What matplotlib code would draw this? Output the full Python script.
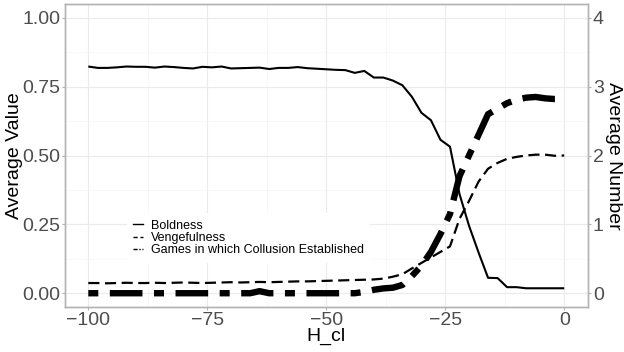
import numpy as np
import matplotlib
matplotlib.use("Agg")
from matplotlib import pyplot as plt
from matplotlib.lines import Line2D
from matplotlib.ticker import MultipleLocator

plt.rcParams['font.family'] = ['Liberation Sans', 'DejaVu Sans']
plt.rcParams['lines.scale_dashes'] = False
plt.rcParams['axes.unicode_minus'] = True

# H_cl values, step 2
h_cl = list(range(-100, 1, 2))

# left axis (0-1)
boldness = [0.823, 0.818, 0.818, 0.820, 0.823, 0.822, 0.822, 0.819, 0.823, 0.821,
            0.818, 0.816, 0.822, 0.820, 0.823, 0.816, 0.817, 0.818, 0.819, 0.814,
            0.818, 0.818, 0.821, 0.817, 0.815, 0.813, 0.811, 0.810, 0.800, 0.807,
            0.783, 0.783, 0.772, 0.755, 0.713, 0.655, 0.628, 0.557, 0.532, 0.360,
            0.245, 0.148, 0.056, 0.055, 0.022, 0.022, 0.018, 0.018, 0.018, 0.018,
            0.018]
vengefulness = [0.037, 0.037, 0.036, 0.037, 0.038, 0.037, 0.037, 0.038, 0.037, 0.038,
                0.039, 0.038, 0.037, 0.038, 0.039, 0.040, 0.039, 0.040, 0.041, 0.040,
                0.041, 0.042, 0.043, 0.043, 0.044, 0.045, 0.046, 0.047, 0.048, 0.049,
                0.050, 0.053, 0.060, 0.069, 0.090, 0.110, 0.130, 0.150, 0.170, 0.270,
                0.335, 0.405, 0.452, 0.473, 0.488, 0.495, 0.500, 0.503, 0.503, 0.499,
                0.500]

# right axis (0-4)
collusion = [0.0, 0.0, 0.0, 0.0, 0.0, 0.0, 0.0, 0.0, 0.0, 0.0,
             0.0, 0.0, 0.0, 0.0, 0.0, 0.0, 0.0, 0.0, 0.03, 0.0,
             0.0, 0.0, 0.0, 0.0, 0.0, 0.0, 0.0, 0.0, 0.0, 0.02,
             0.05, 0.07, 0.08, 0.12, 0.25, 0.40, 0.60, 0.86, 1.15, 1.70,
             2.00, 2.30, 2.60, 2.68, 2.76, 2.81, 2.84, 2.85, 2.83, 2.82,
             2.82]

legend_labels = ["Boldness", "Vengefulness", "Games in which Collusion Established"]

fig = plt.figure(figsize=(6.24, 3.52), dpi=100)
ax = fig.add_axes([64.5 / 624, 45 / 352, 523.5 / 624, 303 / 352])
ax2 = ax.twinx()

border = '#B3B3B3'
tick_col = '#4D4D4D'

ax.plot(h_cl, boldness, color='black', lw=1.5, solid_capstyle='butt')
ax.plot(h_cl, vengefulness, color='black', lw=1.6, dashes=(8, 4), dash_capstyle='butt')
ax2.plot(h_cl, collusion, color='black', lw=4.6, dashes=(7.2, 8.3, 23.5, 8.3),
         dash_capstyle='butt')

ax.set_xlim(-105, 5)
ax.set_ylim(-0.05, 1.05)
ax2.set_ylim(-0.2, 4.2)

ax.xaxis.set_minor_locator(MultipleLocator(12.5))
ax.yaxis.set_minor_locator(MultipleLocator(0.125))
ax.set_yticks([0, 0.25, 0.5, 0.75, 1.0])
ax.set_yticklabels(["0.00", "0.25", "0.50", "0.75", "1.00"])
ax.set_xticks([-100, -75, -50, -25, 0])
ax.set_xticklabels(["\u2212100", "\u221275", "\u221250", "\u221225", "0"])
ax2.set_yticks([0, 1, 2, 3, 4])

ax.grid(which='major', color='#EBEBEB', lw=0.8)
ax.grid(which='minor', color='#F5F5F5', lw=0.5)
ax.set_axisbelow(True)

for a in (ax, ax2):
    for s in a.spines.values():
        s.set_color(border)
        s.set_linewidth(1.0)
    a.tick_params(which='major', length=2.5, width=0.8, color=border,
                  labelsize=14, labelcolor=tick_col, pad=1)
    a.tick_params(which='minor', length=0)
ax.tick_params(axis='y', pad=0.3)

ax.set_xlabel("H_cl", fontsize=14, labelpad=-1)
ax.set_ylabel("Average Value", fontsize=14, labelpad=-0.5)
ax2.set_ylabel("Average Number", fontsize=14, rotation=270, labelpad=13)

handles = [Line2D([], [], color='black', lw=1.0),
           Line2D([], [], color='black', lw=1.0, dashes=(3, 2)),
           Line2D([], [], color='black', lw=1.0, dashes=(3, 1.2, 1, 1.2))]
leg = ax2.legend(handles, legend_labels, loc='center',
                 bbox_to_anchor=(248.5 / 624, 1 - 238 / 352), bbox_transform=fig.transFigure,
                 frameon=True, facecolor='white', edgecolor='none', framealpha=1,
                 fontsize=9, handlelength=0.8, handletextpad=0.6, labelspacing=0.03,
                 borderpad=0.5, fancybox=False)

fig.savefig("out.png", dpi=100)
